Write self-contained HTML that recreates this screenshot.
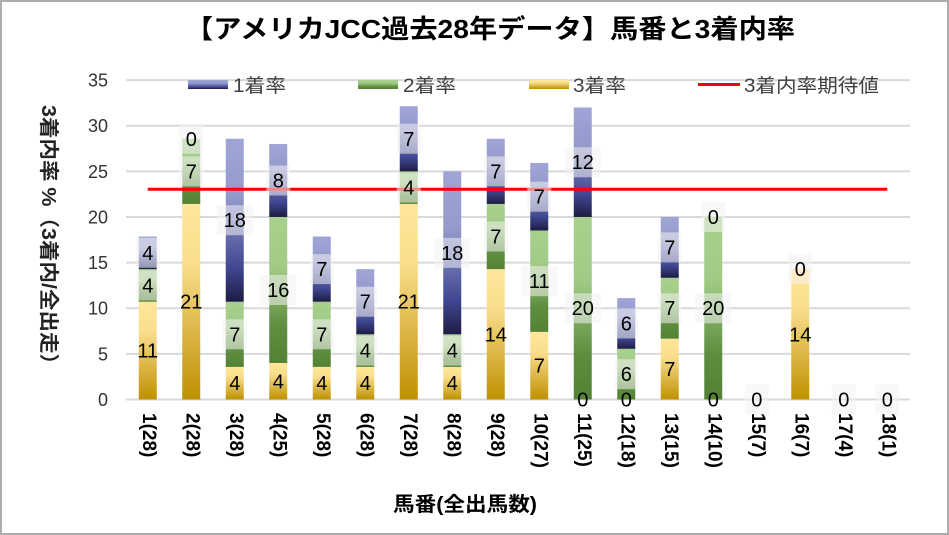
<!DOCTYPE html>
<html><head><meta charset="utf-8"><style>
html,body{margin:0;padding:0;background:#fff;}
svg{display:block;}
text{font-family:"Liberation Sans","Noto Sans CJK JP",sans-serif;}
</style></head><body>
<svg width="949" height="535" viewBox="0 0 949 535" xmlns="http://www.w3.org/2000/svg">
<defs>
<linearGradient id="g1" x1="0" y1="0" x2="0" y2="1">
<stop offset="0" stop-color="#A0A5D6"/><stop offset="0.35" stop-color="#959ACD"/><stop offset="0.8" stop-color="#3F4690"/><stop offset="1" stop-color="#1E1C42"/>
</linearGradient>
<linearGradient id="g2" x1="0" y1="0" x2="0" y2="1">
<stop offset="0" stop-color="#A9D18E"/><stop offset="0.35" stop-color="#A0CA85"/><stop offset="0.75" stop-color="#5F8E40"/><stop offset="1" stop-color="#548235"/>
</linearGradient>
<linearGradient id="g3" x1="0" y1="0" x2="0" y2="1">
<stop offset="0" stop-color="#FFE699"/><stop offset="0.3" stop-color="#FADE8E"/><stop offset="1" stop-color="#BF9000"/>
</linearGradient>
</defs>
<rect x="0" y="0" width="949" height="535" fill="#fff"/>
<rect x="1" y="1" width="947" height="533" fill="none" stroke="#AFACAC" stroke-width="2"/>

<!-- title -->
<text x="185" y="38" font-size="26" font-weight="bold" fill="#000" textLength="610" lengthAdjust="spacingAndGlyphs">【アメリカJCC過去28年データ】馬番と3着内率</text>

<!-- gridlines -->
<g stroke="#D9D9D9" stroke-width="2">
<line x1="126" y1="80.09" x2="910" y2="80.09"/>
<line x1="126" y1="125.72" x2="910" y2="125.72"/>
<line x1="126" y1="171.35" x2="910" y2="171.35"/>
<line x1="126" y1="216.98" x2="910" y2="216.98"/>
<line x1="126" y1="262.61" x2="910" y2="262.61"/>
<line x1="126" y1="308.24" x2="910" y2="308.24"/>
<line x1="126" y1="353.87" x2="910" y2="353.87"/>
<line x1="126" y1="399.5" x2="910" y2="399.5"/>
</g>

<!-- y ticks -->
<g font-size="18" fill="#333" text-anchor="end">
<text x="108" y="86.5">35</text>
<text x="108" y="132.2">30</text>
<text x="108" y="177.8">25</text>
<text x="108" y="223.4">20</text>
<text x="108" y="269.1">15</text>
<text x="108" y="314.7">10</text>
<text x="108" y="360.4">5</text>
<text x="108" y="406">0</text>
</g>

<!-- y axis title -->
<text transform="translate(42,105) rotate(90)" font-size="20" font-weight="bold" fill="#222" textLength="270" lengthAdjust="spacingAndGlyphs">3着内率 %（3着内/全出走）</text>

<!-- legend -->
<rect x="188" y="80" width="40" height="9" fill="url(#g1)"/>
<rect x="358" y="80" width="40" height="9" fill="url(#g2)"/>
<rect x="529" y="80" width="40" height="9" fill="url(#g3)"/>
<line x1="698" y1="84.5" x2="740" y2="84.5" stroke="#FF0000" stroke-width="3"/>
<g font-size="19" fill="#404040">
<text x="233" y="92" textLength="53" lengthAdjust="spacingAndGlyphs">1着率</text>
<text x="403" y="92" textLength="53" lengthAdjust="spacingAndGlyphs">2着率</text>
<text x="573" y="92" textLength="53" lengthAdjust="spacingAndGlyphs">3着率</text>
<text x="744" y="92" textLength="135" lengthAdjust="spacingAndGlyphs">3着内率期待値</text>
</g>

<!-- bars -->
<g>
<rect x="138.75" y="301.72" width="18" height="97.78" fill="url(#g3)"/>
<rect x="138.75" y="269.13" width="18" height="32.59" fill="url(#g2)"/>
<rect x="138.75" y="236.54" width="18" height="32.59" fill="url(#g1)"/>
<rect x="182.25" y="203.94" width="18" height="195.56" fill="url(#g3)"/>
<rect x="182.25" y="138.76" width="18" height="65.18" fill="url(#g2)"/>
<rect x="225.75" y="366.91" width="18" height="32.59" fill="url(#g3)"/>
<rect x="225.75" y="301.72" width="18" height="65.19" fill="url(#g2)"/>
<rect x="225.75" y="138.76" width="18" height="162.96" fill="url(#g1)"/>
<rect x="269.25" y="363" width="18" height="36.5" fill="url(#g3)"/>
<rect x="269.25" y="216.98" width="18" height="146.02" fill="url(#g2)"/>
<rect x="269.25" y="143.97" width="18" height="73.01" fill="url(#g1)"/>
<rect x="312.75" y="366.91" width="18" height="32.59" fill="url(#g3)"/>
<rect x="312.75" y="301.72" width="18" height="65.19" fill="url(#g2)"/>
<rect x="312.75" y="236.54" width="18" height="65.18" fill="url(#g1)"/>
<rect x="356.25" y="366.91" width="18" height="32.59" fill="url(#g3)"/>
<rect x="356.25" y="334.31" width="18" height="32.6" fill="url(#g2)"/>
<rect x="356.25" y="269.13" width="18" height="65.18" fill="url(#g1)"/>
<rect x="399.75" y="203.94" width="18" height="195.56" fill="url(#g3)"/>
<rect x="399.75" y="171.35" width="18" height="32.59" fill="url(#g2)"/>
<rect x="399.75" y="106.16" width="18" height="65.19" fill="url(#g1)"/>
<rect x="443.25" y="366.91" width="18" height="32.59" fill="url(#g3)"/>
<rect x="443.25" y="334.31" width="18" height="32.6" fill="url(#g2)"/>
<rect x="443.25" y="171.35" width="18" height="162.96" fill="url(#g1)"/>
<rect x="486.75" y="269.13" width="18" height="130.37" fill="url(#g3)"/>
<rect x="486.75" y="203.94" width="18" height="65.19" fill="url(#g2)"/>
<rect x="486.75" y="138.76" width="18" height="65.18" fill="url(#g1)"/>
<rect x="530.25" y="331.9" width="18" height="67.6" fill="url(#g3)"/>
<rect x="530.25" y="230.5" width="18" height="101.4" fill="url(#g2)"/>
<rect x="530.25" y="162.9" width="18" height="67.6" fill="url(#g1)"/>
<rect x="573.75" y="216.98" width="18" height="182.52" fill="url(#g2)"/>
<rect x="573.75" y="107.47" width="18" height="109.51" fill="url(#g1)"/>
<rect x="617.25" y="348.8" width="18" height="50.7" fill="url(#g2)"/>
<rect x="617.25" y="298.1" width="18" height="50.7" fill="url(#g1)"/>
<rect x="660.75" y="338.66" width="18" height="60.84" fill="url(#g3)"/>
<rect x="660.75" y="277.82" width="18" height="60.84" fill="url(#g2)"/>
<rect x="660.75" y="216.98" width="18" height="60.84" fill="url(#g1)"/>
<rect x="704.25" y="216.98" width="18" height="182.52" fill="url(#g2)"/>
<rect x="791.25" y="269.13" width="18" height="130.37" fill="url(#g3)"/>
</g>

<!-- expected line -->
<line x1="147.75" y1="189.3" x2="887.25" y2="189.3" stroke="#FF0000" stroke-width="3"/>

<!-- data label boxes (1着/2着 only) -->
<g fill="#F2F2F2" fill-opacity="0.55">
<rect x="135.75" y="270.42" width="24" height="30"/>
<rect x="135.75" y="237.83" width="24" height="30"/>
<rect x="179.25" y="156.35" width="24" height="30"/>
<rect x="179.25" y="123.76" width="24" height="30"/>
<rect x="222.75" y="319.31" width="24" height="30"/>
<rect x="216.75" y="205.24" width="36" height="30"/>
<rect x="260.25" y="274.99" width="36" height="30"/>
<rect x="266.25" y="165.48" width="24" height="30"/>
<rect x="309.75" y="319.31" width="24" height="30"/>
<rect x="309.75" y="254.13" width="24" height="30"/>
<rect x="353.25" y="335.61" width="24" height="30"/>
<rect x="353.25" y="286.72" width="24" height="30"/>
<rect x="396.75" y="172.65" width="24" height="30"/>
<rect x="396.75" y="123.76" width="24" height="30"/>
<rect x="440.25" y="335.61" width="24" height="30"/>
<rect x="434.25" y="237.83" width="36" height="30"/>
<rect x="483.75" y="221.54" width="24" height="30"/>
<rect x="483.75" y="156.35" width="24" height="30"/>
<rect x="521.25" y="266.2" width="36" height="30"/>
<rect x="527.25" y="181.7" width="24" height="30"/>
<rect x="564.75" y="293.24" width="36" height="30"/>
<rect x="564.75" y="147.22" width="36" height="30"/>
<rect x="614.25" y="359.15" width="24" height="30"/>
<rect x="614.25" y="308.45" width="24" height="30"/>
<rect x="657.75" y="293.24" width="24" height="30"/>
<rect x="657.75" y="232.4" width="24" height="30"/>
<rect x="695.25" y="293.24" width="36" height="30"/>
<rect x="701.25" y="201.98" width="24" height="30"/>
<rect x="744.75" y="384.5" width="24" height="30"/>
<rect x="788.25" y="254.13" width="24" height="30"/>
<rect x="831.75" y="384.5" width="24" height="30"/>
<rect x="875.25" y="384.5" width="24" height="30"/>
</g>

<!-- data labels: text -->
<g font-size="20" fill="#000" text-anchor="middle">
<text x="147.75" y="357.6">11</text>
<text x="147.75" y="292.4">4</text>
<text x="147.75" y="259.8">4</text>
<text x="191.25" y="308.7">21</text>
<text x="191.25" y="178.4">7</text>
<text x="191.25" y="145.8">0</text>
<text x="234.75" y="390.2">4</text>
<text x="234.75" y="341.3">7</text>
<text x="234.75" y="227.2">18</text>
<text x="278.25" y="388.3">4</text>
<text x="278.25" y="297">16</text>
<text x="278.25" y="187.5">8</text>
<text x="321.75" y="390.2">4</text>
<text x="321.75" y="341.3">7</text>
<text x="321.75" y="276.1">7</text>
<text x="365.25" y="390.2">4</text>
<text x="365.25" y="357.6">4</text>
<text x="365.25" y="308.7">7</text>
<text x="408.75" y="308.7">21</text>
<text x="408.75" y="194.7">4</text>
<text x="408.75" y="145.8">7</text>
<text x="452.25" y="390.2">4</text>
<text x="452.25" y="357.6">4</text>
<text x="452.25" y="259.8">18</text>
<text x="495.75" y="341.3">14</text>
<text x="495.75" y="243.5">7</text>
<text x="495.75" y="178.4">7</text>
<text x="539.25" y="372.7">7</text>
<text x="539.25" y="288.2">11</text>
<text x="539.25" y="203.7">7</text>
<text x="582.75" y="406.5">0</text>
<text x="582.75" y="315.2">20</text>
<text x="582.75" y="169.2">12</text>
<text x="626.25" y="406.5">0</text>
<text x="626.25" y="381.2">6</text>
<text x="626.25" y="330.5">6</text>
<text x="669.75" y="376.1">7</text>
<text x="669.75" y="315.2">7</text>
<text x="669.75" y="254.4">7</text>
<text x="713.25" y="406.5">0</text>
<text x="713.25" y="315.2">20</text>
<text x="713.25" y="224">0</text>
<text x="756.75" y="406.5">0</text>
<text x="800.25" y="341.3">14</text>
<text x="800.25" y="276.1">0</text>
<text x="843.75" y="406.5">0</text>
<text x="887.25" y="406.5">0</text>
</g>

<!-- x labels -->
<g font-size="19" font-weight="bold" fill="#000">
<text transform="translate(142.75,413) rotate(90)">1(28)</text>
<text transform="translate(186.25,413) rotate(90)">2(28)</text>
<text transform="translate(229.75,413) rotate(90)">3(28)</text>
<text transform="translate(273.25,413) rotate(90)">4(25)</text>
<text transform="translate(316.75,413) rotate(90)">5(28)</text>
<text transform="translate(360.25,413) rotate(90)">6(28)</text>
<text transform="translate(403.75,413) rotate(90)">7(28)</text>
<text transform="translate(447.25,413) rotate(90)">8(28)</text>
<text transform="translate(490.75,413) rotate(90)">9(28)</text>
<text transform="translate(534.25,413) rotate(90)">10(27)</text>
<text transform="translate(577.75,413) rotate(90)">11(25)</text>
<text transform="translate(621.25,413) rotate(90)">12(18)</text>
<text transform="translate(664.75,413) rotate(90)">13(15)</text>
<text transform="translate(708.25,413) rotate(90)">14(10)</text>
<text transform="translate(751.75,413) rotate(90)">15(7)</text>
<text transform="translate(795.25,413) rotate(90)">16(7)</text>
<text transform="translate(838.75,413) rotate(90)">17(4)</text>
<text transform="translate(882.25,413) rotate(90)">18(1)</text>
</g>

<!-- x axis title -->
<text x="393" y="511" font-size="20" font-weight="bold" fill="#000" textLength="144" lengthAdjust="spacingAndGlyphs">馬番(全出馬数)</text>
</svg>
</body></html>
